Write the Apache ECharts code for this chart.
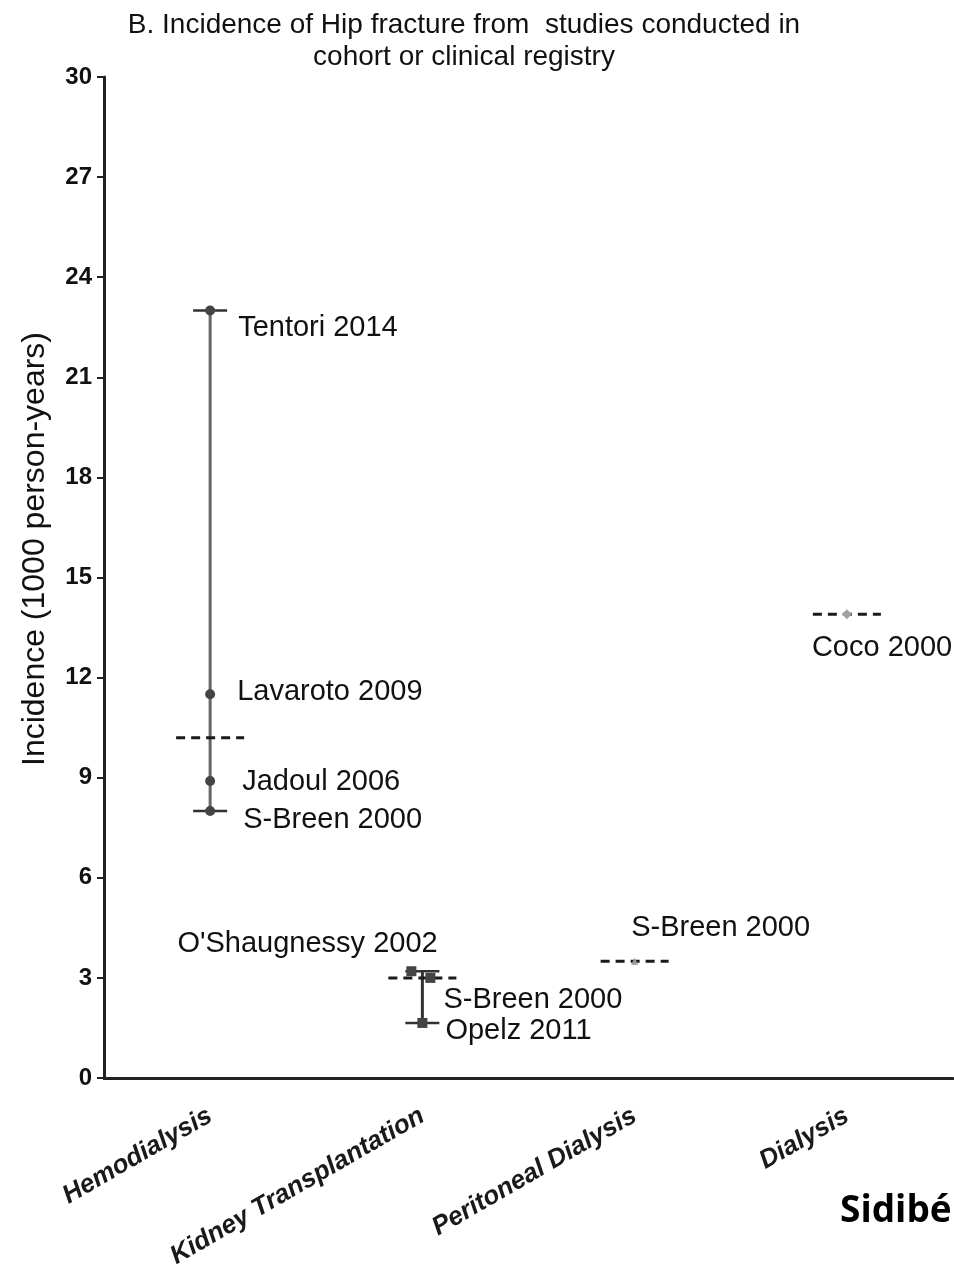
<!DOCTYPE html>
<html><head><meta charset="utf-8">
<script src="https://cdn.jsdelivr.net/npm/echarts@6/dist/echarts.min.js"></script>
<style>html,body{margin:0;padding:0;background:#fff}#c{width:954px;height:1267px}</style>
</head><body><div id="c"></div>
<script>
// ---- data ----
const categories = ['Hemodialysis', 'Kidney Transplantation', 'Peritoneal Dialysis', 'Dialysis'];
const yMin = 0, yMax = 30, yStep = 3;

const hemoStudies = ['Tentori 2014', 'Lavaroto 2009', 'Jadoul 2006', 'S-Breen 2000'];
const hemoValues = [23.0, 11.5, 8.9, 8.0];
const kidneyStudies = ["O'Shaugnessy 2002", 'S-Breen 2000', 'Opelz 2011'];
const kidneyValues = [3.2, 3.0, 1.65];
const peritonealStudies = ['S-Breen 2000'];
const peritonealValues = [3.5];
const dialysisStudies = ['Coco 2000'];
const dialysisValues = [13.9];

const pooledMeans = [10.2, 3.0, 3.5, 13.9];
const rangeLow = [8.0, 1.65];
const rangeHigh = [23.0, 3.2];

// ---- styles (pixel offsets of labels / markers) ----
const hemoLabelOffsets = [[23, 17], [22, -2], [27, 1], [28, 9]];
const kidneyLabelOffsets = [[-239, -27], [8, 22], [18, 8]];
const kidneySymbolShift = [[-11, 0], [8, 0], [0, 0]];
const peritonealLabelOffsets = [[-7, -33]];
const dialysisLabelOffsets = [[-40, 34]];

const FONT = '"Liberation Sans", Arial, Helvetica, sans-serif';
const labelText = { fontFamily: FONT, fontSize: 29, fontWeight: 'normal', color: '#111' };

function pointsFor(catIndex, names, values, offsets, shifts) {
  return values.map((v, i) => ({
    name: names[i],
    value: [catIndex, v],
    symbolOffset: shifts ? shifts[i] : [0, 0],
    label: { offset: offsets[i] }
  }));
}

const chart = echarts.init(document.getElementById('c'), null, { renderer: 'canvas' });

const option = {
  backgroundColor: '#ffffff',
  animation: false,
  title: {
    text: 'B. Incidence of Hip fracture from  studies conducted in\ncohort or clinical registry',
    left: 459, top: 4, textAlign: 'center',
    textStyle: { fontFamily: FONT, fontSize: 28, fontWeight: 'normal', color: '#111', lineHeight: 32 }
  },
  grid: { left: 104, right: 1, top: 77, bottom: 189, containLabel: false, outerBoundsMode: 'none' },
  xAxis: {
    type: 'category',
    data: categories,
    boundaryGap: true,
    axisLine: { lineStyle: { color: '#222', width: 3 } },
    axisTick: { alignWithLabel: true, length: 9, lineStyle: { color: '#222', width: 2 } },
    axisLabel: {
      rotate: 30, margin: 36, interval: 0,
      fontFamily: FONT, fontSize: 26, fontStyle: 'italic', fontWeight: 'bold', color: '#1a1a1a'
    },
    splitLine: { show: false }
  },
  yAxis: {
    type: 'value', min: yMin, max: yMax, interval: yStep,
    axisLine: { show: true, lineStyle: { color: '#222', width: 3 } },
    axisTick: { show: true, length: 7, lineStyle: { color: '#222', width: 2 } },
    axisLabel: { margin: 12, fontFamily: FONT, fontSize: 24, fontWeight: 'bold', color: '#111' },
    splitLine: { show: false }
  },
  graphic: [
    {
      type: 'text', x: 35, y: 549, rotation: Math.PI / 2,
      style: { text: 'Incidence (1000 person-years)', font: '32px ' + FONT, fill: '#111',
               textAlign: 'center', textVerticalAlign: 'middle' }
    },
    {
      type: 'text', left: 840, top: 1193,
      style: { text: 'Sidibé', font: 'bold 37px "Open Sans", "Noto Sans", sans-serif', fill: '#000' }
    }
  ],
  series: [
    {
      type: 'custom', name: 'range', z: 2,
      data: rangeLow.map((lo, i) => [i, lo, rangeHigh[i]]),
      renderItem: function (params, api) {
        const x = api.value(0);
        const lo = api.coord([x, api.value(1)]);
        const hi = api.coord([x, api.value(2)]);
        const cap = 17;
        const col = x === 0 ? '#666' : '#333';
        return {
          type: 'group', children: [
            { type: 'line', shape: { x1: lo[0], y1: lo[1], x2: hi[0], y2: hi[1] }, style: { stroke: col, lineWidth: 3 } },
            { type: 'line', shape: { x1: hi[0] - cap, y1: hi[1], x2: hi[0] + cap, y2: hi[1] }, style: { stroke: '#333', lineWidth: 2.5 } },
            { type: 'line', shape: { x1: lo[0] - cap, y1: lo[1], x2: lo[0] + cap, y2: lo[1] }, style: { stroke: '#333', lineWidth: 2.5 } }
          ]
        };
      }
    },
    {
      type: 'custom', name: 'mean', z: 3,
      data: pooledMeans.map((m, i) => [i, m]),
      renderItem: function (params, api) {
        const p = api.coord([api.value(0), api.value(1)]);
        const hw = 34;
        return {
          type: 'line', shape: { x1: p[0] - hw, y1: p[1], x2: p[0] + hw, y2: p[1] },
          style: { stroke: '#1a1a1a', lineWidth: 3, lineDash: [9, 6] }
        };
      }
    },
    {
      type: 'scatter', name: 'Hemodialysis', z: 5,
      symbol: 'circle', symbolSize: 10,
      itemStyle: { color: '#444', opacity: 1 },
      label: { show: true, position: 'right', distance: 0, formatter: '{b}', ...labelText },
      data: pointsFor(0, hemoStudies, hemoValues, hemoLabelOffsets)
    },
    {
      type: 'scatter', name: 'Kidney Transplantation', z: 5,
      symbol: 'rect', symbolSize: 10,
      itemStyle: { color: '#444', opacity: 1 },
      label: { show: true, position: 'right', distance: 0, formatter: '{b}', ...labelText },
      data: pointsFor(1, kidneyStudies, kidneyValues, kidneyLabelOffsets, kidneySymbolShift)
    },
    {
      type: 'scatter', name: 'Peritoneal Dialysis', z: 5,
      symbol: 'triangle', symbolSize: 7,
      itemStyle: { color: '#999', opacity: 1 },
      label: { show: true, position: 'right', distance: 0, formatter: '{b}', ...labelText },
      data: pointsFor(2, peritonealStudies, peritonealValues, peritonealLabelOffsets)
    },
    {
      type: 'scatter', name: 'Dialysis', z: 5,
      symbol: 'diamond', symbolSize: 10,
      itemStyle: { color: '#a0a0a0', opacity: 1 },
      label: { show: true, position: 'right', distance: 0, formatter: '{b}', ...labelText },
      data: pointsFor(3, dialysisStudies, dialysisValues, dialysisLabelOffsets)
    }
  ]
};
chart.setOption(option);
</script>
</body></html>
